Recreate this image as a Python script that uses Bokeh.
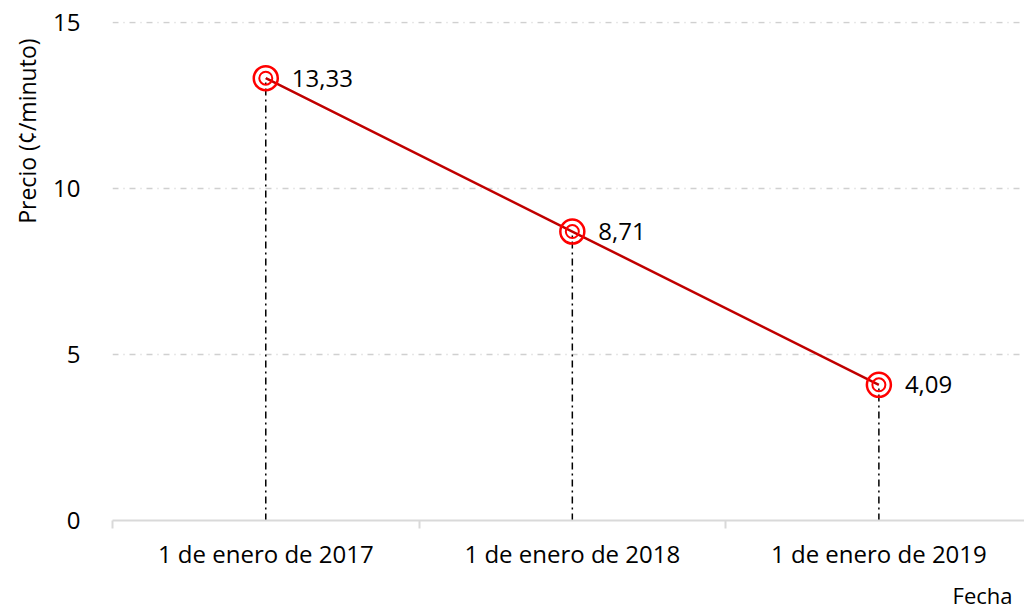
from bokeh.plotting import figure
from bokeh.models import FixedTicker, Range1d, Title, ColumnDataSource
from bokeh.embed import file_html
from bokeh.resources import INLINE

categories = ["1 de enero de 2017", "1 de enero de 2018", "1 de enero de 2019"]
prices = [13.33, 8.71, 4.09]
y_ticks = [0, 5, 10, 15]

xs = list(range(len(categories)))
labels = [f"{v:.2f}".replace(".", ",") for v in prices]
src = ColumnDataSource(dict(x=xs, y=prices, lab=labels, zero=[0] * len(xs)))

FONT = "Open Sans"

p = figure(width=1017, height=608, output_backend="svg", toolbar_location=None,
           x_range=Range1d(-0.5, 2.475), y_range=Range1d(0, 15.04),
           frame_width=912, frame_height=499,
           min_border_left=105, min_border_top=21, min_border_right=0, min_border_bottom=5)
p.outline_line_color = None
p.background_fill_color = "white"

# grid
p.xgrid.grid_line_color = None
p.ygrid.ticker = FixedTicker(ticks=y_ticks)
p.ygrid.grid_line_color = "#d0d0d0"
p.ygrid.grid_line_width = 1.5
p.ygrid.grid_line_dash = "6 5 1 5"

# y axis
p.yaxis.ticker = FixedTicker(ticks=y_ticks)
p.yaxis.axis_line_color = None
p.yaxis.major_tick_line_color = None
p.yaxis.minor_tick_line_color = None
p.yaxis.major_label_standoff = 26
p.yaxis.major_label_text_font = FONT
p.yaxis.major_label_text_font_size = "24px"
p.yaxis.major_label_text_color = "#000000"

p.add_layout(Title(text="Precio (¢/minuto)", align="right", offset=17, standoff=16,
                   text_font=FONT, text_font_size="23px",
                   text_font_style="normal", text_color="#000000"), "left")

# x axis
bounds = [i - 0.5 for i in xs]
p.xaxis.ticker = FixedTicker(ticks=xs, minor_ticks=bounds)
p.xaxis.major_label_overrides = {i: c for i, c in zip(xs, categories)}
p.xaxis.axis_line_color = "#d9d9d9"
p.xaxis.axis_line_width = 2
p.xaxis.major_tick_line_color = None
p.xaxis.minor_tick_line_color = "#d9d9d9"
p.xaxis.minor_tick_line_width = 2
p.xaxis.minor_tick_out = 8
p.xaxis.minor_tick_in = 0
p.xaxis.major_tick_out = 0
p.xaxis.major_tick_in = 0
p.xaxis.major_label_standoff = 8
p.xaxis.major_label_text_font = FONT
p.xaxis.major_label_text_font_size = "24px"
p.xaxis.major_label_text_color = "#000000"

p.add_layout(Title(text="Fecha", align="right", offset=12, text_font=FONT, text_font_size="22px",
                   text_font_style="normal", text_color="#000000"), "below")

# drop lines
p.segment(x0="x", y0="zero", x1="x", y1="y", source=src, line_color="black",
          line_width=1.5, line_dash="7 4 2 4")
# line
p.line("x", "y", source=src, line_color="#c00000", line_width=2.5)
# markers
p.scatter("x", "y", source=src, size=24, marker="circle", fill_color=None,
          line_color="#ff0000", line_width=2.5)
p.scatter("x", "y", source=src, size=13, marker="circle", fill_color=None,
          line_color="#ff0000", line_width=2)
# data labels
p.text("x", "y", text="lab", source=src, x_offset=26, text_baseline="middle",
       text_align="left", text_font_size="24px", text_color="#000000",
       text_font={"value": FONT})

open("out.html", "w").write(file_html(p, INLINE))
